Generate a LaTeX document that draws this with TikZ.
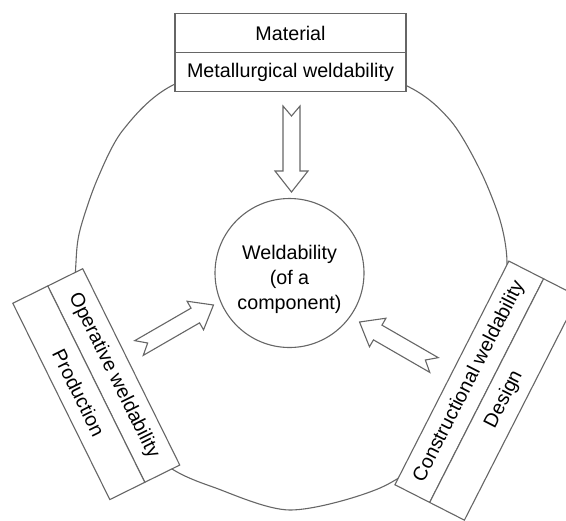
\documentclass[tikz,border=0pt]{standalone}
\usepackage{fontspec}
\setmainfont{Liberation Sans}
\usetikzlibrary{positioning}
\definecolor{edge}{HTML}{666666}
\tikzset{partbox/.style={draw=edge,fill=white,line width=0.55pt,inner sep=0pt,outer sep=0pt,
 minimum height=19.5pt,font=\fontsize{9.85}{12.5}\selectfont},
 ringline/.style={draw=edge,line width=0.55pt},
 hollowarrow/.pic={\draw[ringline,fill=white,line join=miter]
  (0,8.5)--(65,8.5)--(65,16.5)--(86,0)--(65,-16.5)--(65,-8.5)--(0,-8.5)--(10,0)--cycle;}}

\begin{document}
\begin{tikzpicture}[x=0.5pt,y=-0.5pt]
\useasboundingbox (0,0) rectangle (566,520);
\clip (0,0) rectangle (566,520);
% outer ring
\draw[ringline] plot[smooth cycle] coordinates {(290,45) (405,85) (450,120) (480,170) (500,220)
 (507,262) (502,320) (480,385) (440,445) (380,488) (290,510) (213,487) (172,469) (130,435)
 (95,375) (76,310) (76,262) (80,230) (97,180) (123,130) (173,85)};
% top: material
\node[partbox,minimum width=115.5pt] (material) at (290.5,33) {Material};
\node[partbox,minimum width=115.5pt,below=0pt of material] (metweld) {Metallurgical weldability};
% left: production
\node[partbox,minimum width=109.5pt,rotate=-63.7] (opweld) at (113.75,375.5) {Operative weldability};
\node[partbox,minimum width=109.5pt,rotate=-63.7,below=0pt of opweld] (production) {Production};
% right: design
\node[partbox,minimum width=125.5pt,rotate=63] (conweld) at (469.25,381.75) {Constructional weldability};
\node[partbox,minimum width=125.5pt,rotate=63,below=0pt of conweld] (design) {Design};
% centre
\node[partbox,circle,minimum size=74.5pt,align=center] (weld) at (289.5,273)
 {\rule{0pt}{14pt}Weldability\\(of a\\component)};
\coordinate (fromtop) at (291.5,106);
\coordinate (fromleft) at (139,348);
\coordinate (fromright) at (434,365);
\pic[rotate=-90] at (fromtop) {hollowarrow};
\pic[rotate=30] at (fromleft) {hollowarrow};
\pic[rotate=150] at (fromright) {hollowarrow};
\end{tikzpicture}
\end{document}
